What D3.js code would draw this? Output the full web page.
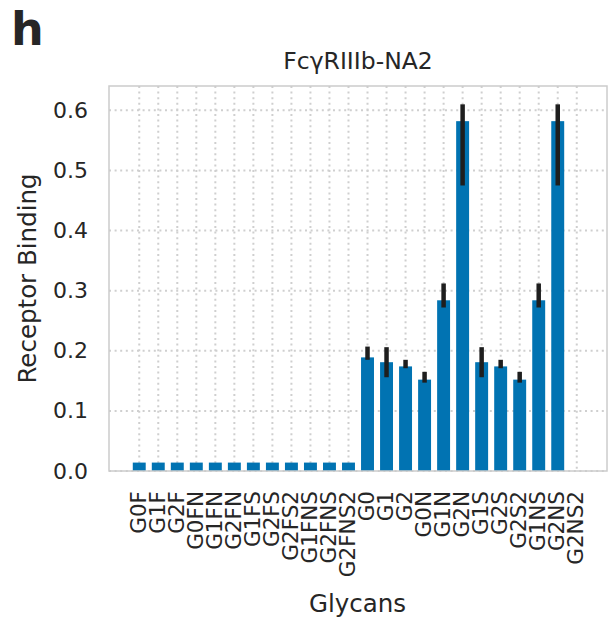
<!DOCTYPE html>
<html>
<head>
<meta charset="utf-8">
<script src="https://cdn.jsdelivr.net/npm/d3@7"></script>
<style>
  body { margin: 0; background: #fff; }
  text { font-family: "DejaVu Sans", sans-serif; fill: #262626; }
</style>
</head>
<body>
<svg width="611" height="622"></svg>
<script>
// ---------- data ----------
const glycans = ["G0F","G1F","G2F","G0FN","G1FN","G2FN","G1FS","G2FS","G2FS2","G1FNS","G2FNS","G2FNS2",
                 "G0","G1","G2","G0N","G1N","G2N","G1S","G2S","G2S2","G1NS","G2NS","G2NS2"];
const binding = [0.014,0.014,0.014,0.014,0.014,0.014,0.014,0.014,0.014,0.014,0.014,0.014,
                 0.189,0.181,0.174,0.152,0.284,0.582,0.181,0.174,0.152,0.284,0.582,0.0];
const ciLow  = [null,null,null,null,null,null,null,null,null,null,null,null,
                0.185,0.156,0.171,0.147,0.272,0.475,0.156,0.171,0.147,0.272,0.475,null];
const ciHigh = [null,null,null,null,null,null,null,null,null,null,null,null,
                0.207,0.206,0.185,0.165,0.312,0.610,0.206,0.185,0.165,0.312,0.610,null];
const yTicks = [0.0,0.1,0.2,0.3,0.4,0.5,0.6];

const data = glycans.map((g,i) => ({glycan: g, value: binding[i], lo: ciLow[i], hi: ciHigh[i]}));

// ---------- layout ----------
const pLeft = 109, pRight = 607, pTop = 86, pBottom = 471;
const svg = d3.select("svg");

const xs = d3.scaleBand().domain(glycans).range([pLeft, pRight])
  .paddingInner(0.32).paddingOuter(1.25);
const ys = d3.scaleLinear().domain([0, 0.6405]).range([pBottom, pTop]);

// ---------- grid ----------
const grid = svg.append("g");
grid.selectAll("line.h").data(yTicks).join("line")
  .attr("x1", pLeft).attr("x2", pRight)
  .attr("y1", d => ys(d)).attr("y2", d => ys(d))
  .attr("stroke", "#cfcfcf").attr("stroke-width", 2).attr("stroke-dasharray", "2,3.6");
grid.selectAll("line.v").data(glycans).join("line")
  .attr("x1", d => xs(d) + xs.bandwidth()/2).attr("x2", d => xs(d) + xs.bandwidth()/2)
  .attr("y1", pTop).attr("y2", pBottom)
  .attr("stroke", "#cfcfcf").attr("stroke-width", 2).attr("stroke-dasharray", "2,3.6");

// ---------- bars ----------
svg.append("g").selectAll("rect").data(data).join("rect")
  .attr("x", d => xs(d.glycan))
  .attr("width", xs.bandwidth())
  .attr("y", d => ys(d.value))
  .attr("height", d => ys(0) - ys(d.value))
  .attr("fill", "#0173B2");

// error bars
svg.append("g").selectAll("line").data(data.filter(d => d.lo != null)).join("line")
  .attr("x1", d => xs(d.glycan) + xs.bandwidth()/2)
  .attr("x2", d => xs(d.glycan) + xs.bandwidth()/2)
  .attr("y1", d => ys(d.lo)).attr("y2", d => ys(d.hi))
  .attr("stroke", "#1e1e1e").attr("stroke-width", 4.5);

// ---------- frame ----------
svg.append("rect")
  .attr("x", pLeft).attr("y", pTop).attr("width", pRight - pLeft).attr("height", pBottom - pTop)
  .attr("fill", "none").attr("stroke", "#cccccc").attr("stroke-width", 1.5);

// ---------- axes ----------
const yAxis = svg.append("g")
  .attr("transform", "translate(" + pLeft + ",0)")
  .call(d3.axisLeft(ys).tickValues(yTicks).tickFormat(d3.format(".1f")).tickSize(0).tickPadding(21));
yAxis.select(".domain").remove();
yAxis.selectAll("text").style("font-size", "22px").attr("fill", "#262626");

const xAxis = svg.append("g")
  .attr("transform", "translate(0," + pBottom + ")")
  .call(d3.axisBottom(xs).tickSize(0));
xAxis.select(".domain").remove();
xAxis.selectAll("text")
  .style("font-size", "21.5px").attr("fill", "#262626")
  .attr("text-anchor", "end")
  .attr("transform", "rotate(-90)")
  .attr("x", -20).attr("y", 0).attr("dy", "0.3em");

// ---------- labels ----------
svg.append("text").attr("x", 358).attr("y", 68.5).attr("text-anchor", "middle")
  .style("font-size", "23.5px").text("FcγRIIIb-NA2");
svg.append("text").attr("x", 357.5).attr("y", 612).attr("text-anchor", "middle")
  .style("font-size", "24.5px").text("Glycans");
svg.append("text").attr("transform", "translate(36,278.5) rotate(-90)").attr("text-anchor", "middle")
  .style("font-size", "24.5px").text("Receptor Binding");
svg.append("text").attr("x", 11).attr("y", 45)
  .style("font-size", "46px").style("font-weight", "bold").attr("fill", "#1a1a1a").text("h");
</script>
</body>
</html>
